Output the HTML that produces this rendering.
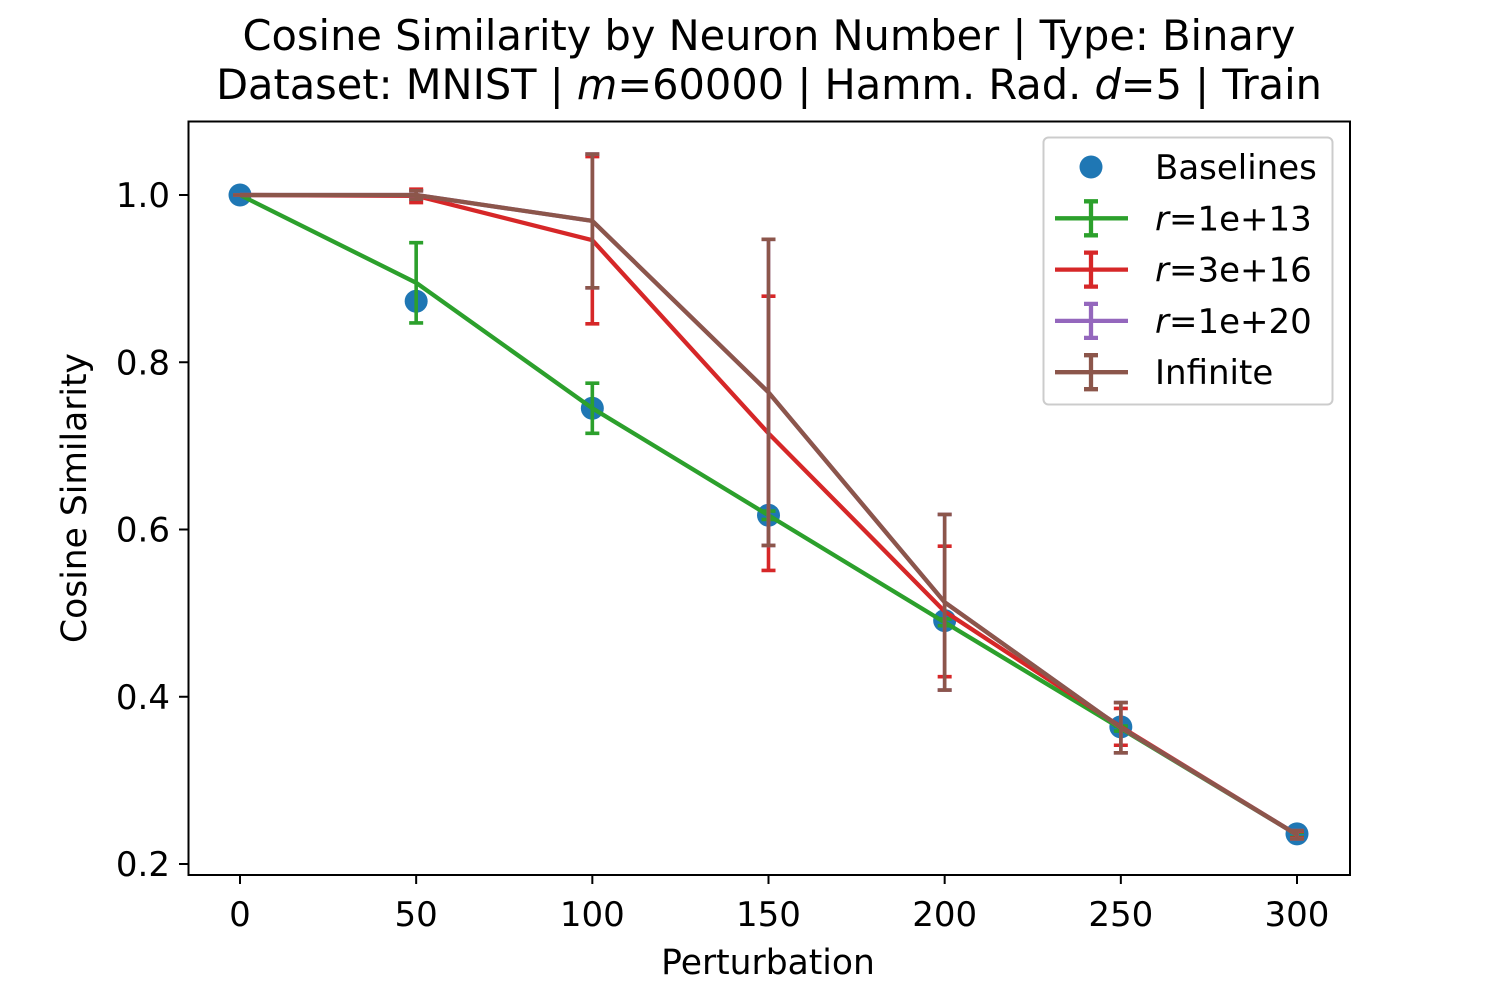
<!DOCTYPE html>
<html><head><meta charset="utf-8">
<style>
html,body{margin:0;padding:0;background:#fff;}
svg text{font-family:"DejaVu Sans","Liberation Sans",sans-serif;fill:#000;}
</style></head>
<body>
<svg id="chart" width="1500" height="1000" viewBox="0 0 1500 1000" xmlns="http://www.w3.org/2000/svg">
<rect x="0" y="0" width="1500" height="1000" fill="#fff"/>
<g>
<text x="769" y="50" font-size="41.5" text-anchor="middle">Cosine Similarity by Neuron Number | Type: Binary</text>
<text x="769" y="99" font-size="41.5" text-anchor="middle">Dataset: MNIST | <tspan font-style="italic">m</tspan>=60000 | Hamm. Rad. <tspan font-style="italic">d</tspan>=5 | Train</text>
</g>
<g id="plot"></g>
<rect x="188.5" y="121.5" width="1161.5" height="753.5" fill="none" stroke="#000" stroke-width="2"/>
<text x="768" y="974" font-size="34.5" text-anchor="middle">Perturbation</text>
<text transform="translate(86,498) rotate(-90)" font-size="34.5" text-anchor="middle">Cosine Similarity</text>
<g id="legend"></g>
</svg>
<script>
const xs = [0, 50, 100, 150, 200, 250, 300];
const baselines = [1.0, 0.873, 0.745, 0.617, 0.491, 0.364, 0.236];
const g13 = [1.0, 0.895, 0.745, 0.617, 0.489, 0.362, 0.235];
const g13err = [0, 0.048, 0.03, 0.005, 0.004, 0.003, 0.003];
const r16 = [1.0, 0.999, 0.946, 0.715, 0.502, 0.364, 0.235];
const r16err = [0, 0.008, 0.1, 0.164, 0.078, 0.022, 0.004];
const r20 = [1.0, 1.0, 0.969, 0.764, 0.513, 0.363, 0.235];
const r20err = [0, 0.005, 0.08, 0.183, 0.105, 0.03, 0.005];
const inf = [1.0, 1.0, 0.969, 0.764, 0.513, 0.363, 0.235];
const infErr = [0, 0.005, 0.08, 0.183, 0.105, 0.03, 0.005];
const xTicks = [0, 50, 100, 150, 200, 250, 300];
const yTicks = [0.2, 0.4, 0.6, 0.8, 1.0];

const NS = "http://www.w3.org/2000/svg";
function X(v){ return 240 + v * (1297 - 240) / 300; }
function Y(v){ return 195 + (1 - v) * 836.25; }
function mk(tag, attrs, parent){
  const e = document.createElementNS(NS, tag);
  for (const k in attrs) e.setAttribute(k, attrs[k]);
  parent.appendChild(e); return e;
}
const plot = document.getElementById('plot');
const svg = document.getElementById('chart');

xTicks.forEach(t => {
  const l = mk('line', {x1:X(t), x2:X(t), y1:875, y2:884, stroke:'#000','stroke-width':2}, svg);
  
  
  const tx = mk('text', {x:X(t), y:926, 'font-size':34, 'text-anchor':'middle'}, svg);
  tx.textContent = t;
  
  
});
yTicks.forEach(t => {
  const l = mk('line', {x1:179, x2:188, y1:Y(t), y2:Y(t), stroke:'#000','stroke-width':2}, svg);
  
  
  const tx = mk('text', {x:170, y:Y(t)+12, 'font-size':34, 'text-anchor':'end'}, svg);
  tx.textContent = t.toFixed(1);
  
  
});

baselines.forEach((v, i) => {
  const c = mk('circle', {cx:X(xs[i]), cy:Y(v), r:11.5, fill:'#1f77b4'}, plot);
  
  
});

function series(vals, errs, color, name){
  const g = mk('g', {}, plot);
  
  
  const pts = vals.map((v, i) => X(xs[i]) + ',' + Y(v)).join(' ');
  const pl = mk('polyline', {points:pts, fill:'none', stroke:color, 'stroke-width':4.3, 'stroke-linejoin':'round'}, g);
  
  
  vals.forEach((v, i) => {
    const x = X(xs[i]), y1 = Y(v + errs[i]), y2 = Y(v - errs[i]);
    const eb = mk('path', {d:`M${x},${y1}V${y2}M${x-7},${y1}H${x+7}M${x-7},${y2}H${x+7}`, stroke:color, 'stroke-width':3.6, fill:'none'}, g);
    
    
  });
}
series(g13, g13err, '#2ca02c', 'r-1e13');
series(r16, r16err, '#d62728', 'r-3e16');
series(r20, r20err, '#9467bd', 'r-1e20');
series(inf, infErr, '#8c564b', 'infinite');

const legend = document.getElementById('legend');
const box = mk('rect', {x:1043.5, y:137.5, width:289, height:267, rx:5, fill:'#fff', 'fill-opacity':0.8, stroke:'#ccc', 'stroke-width':2}, legend);


const legendNames = ['Baselines', 'r=1e+13', 'r=3e+16', 'r=1e+20', 'Infinite'];
const legendColors = ['#1f77b4', '#2ca02c', '#d62728', '#9467bd', '#8c564b'];
legendNames.forEach((n, i) => {
  const y = 167 + i * 51.3;
  const g = mk('g', {}, legend);
  
  
  if (i === 0) {
    mk('circle', {cx:1091, cy:y, r:11.5, fill:legendColors[i]}, g);
  } else {
    mk('path', {d:`M1055,${y}H1128M1091,${y-17}V${y+17}M1084,${y-17}H1098M1084,${y+17}H1098`, stroke:legendColors[i], 'stroke-width':4.3, fill:'none'}, g);
  }
  const t = mk('text', {x:1155, y:y+12, 'font-size':34}, g);
  if (n.startsWith('r=')) {
    const ts = mk('tspan', {'font-style':'italic'}, t); ts.textContent = 'r';
    const ts2 = mk('tspan', {}, t); ts2.textContent = n.slice(1);
  } else t.textContent = n;
});
</script>
</body></html>
